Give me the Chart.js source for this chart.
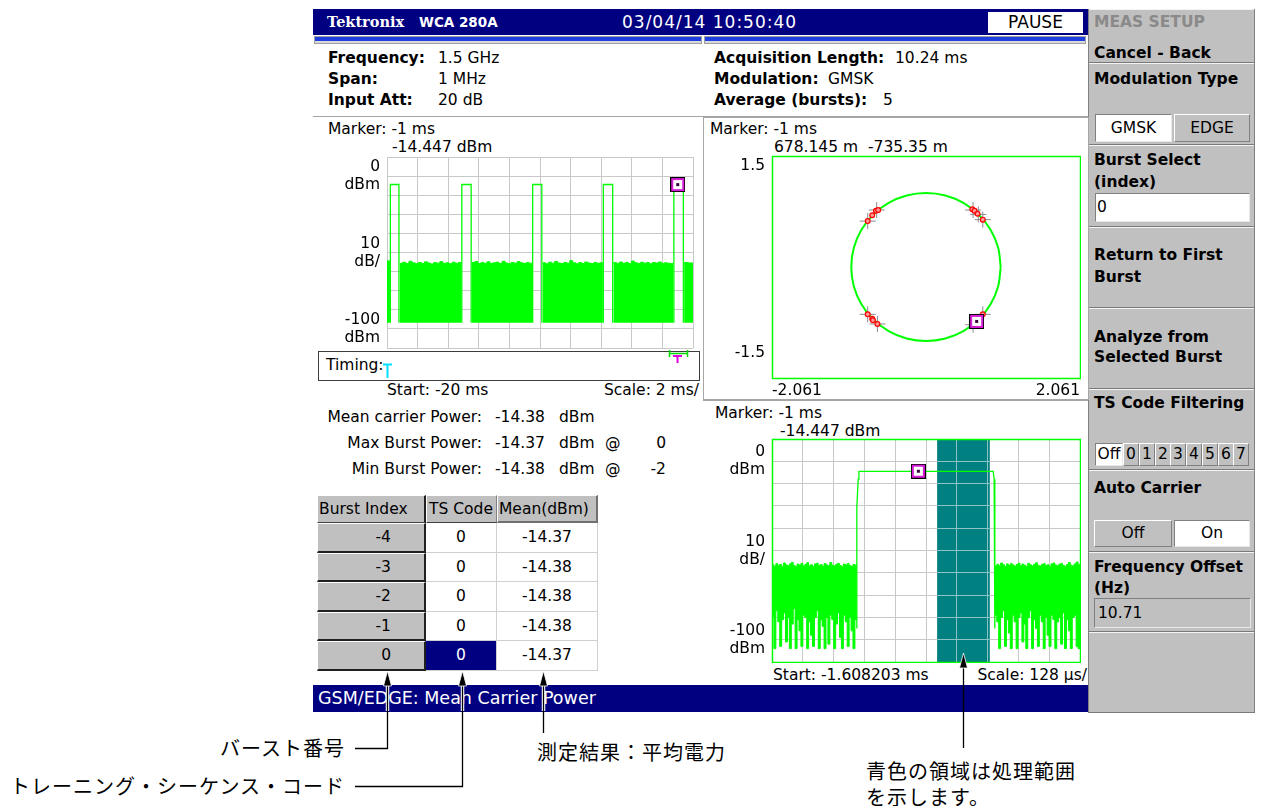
<!DOCTYPE html>
<html lang="ja">
<head>
<meta charset="utf-8">
<title>GSM/EDGE: Mean Carrier Power</title>
<script src="https://cdn.jsdelivr.net/npm/chart.js@4.4.1/dist/chart.umd.min.js"></script>
<style>
body { margin:0; width:1263px; height:806px; position:relative; overflow:hidden; background:#fff;
  font-family:'DejaVu Sans', sans-serif; font-size:15.5px; color:#000; }
.t { position:absolute; white-space:nowrap; line-height:18px; }
.r { text-align:right; }
.b { font-weight:bold; }
.w { color:#fff; }
.box { position:absolute; box-sizing:border-box; white-space:nowrap; }
canvas { position:absolute; }
.jp { position:absolute; white-space:nowrap; font-family:'Noto Sans CJK JP', sans-serif; font-size:20px; letter-spacing:1px; line-height:24px; }
.sec { position:absolute; left:1089px; width:165px; box-sizing:border-box; border-top:1px solid #f4f4f4; border-bottom:1px solid #7a7a7a; }
.raised { background:#c0c0c0; border-top:1px solid #fff; border-left:1px solid #fff; border-right:1px solid #808080; border-bottom:1px solid #808080; }
.sunk { border-top:1px solid #808080; border-left:1px solid #808080; border-right:1px solid #e8e8e8; border-bottom:1px solid #e8e8e8; }
.cell { position:absolute; box-sizing:border-box; white-space:nowrap; }
</style>
</head>
<body>

<!-- title bar -->
<div class="box" style="left:313px;top:9px;width:775px;height:26px;background:#000080"></div>
<div class="t w b" style="left:327px;top:13px;font-family:'DejaVu Serif',serif;font-size:14.5px">Tektronix</div>
<div class="t w b" style="left:419px;top:13px;font-size:13.5px">WCA 280A</div>
<div class="t w" style="left:622px;top:13px;font-size:17px;letter-spacing:1px">03/04/14 10:50:40</div>
<div class="box" style="left:988px;top:12px;width:95px;height:21px;background:#fff;text-align:center;line-height:21px;font-size:17px">PAUSE</div>
<div class="box" style="left:314px;top:36px;width:388px;height:8px;background:#1f3fe0;border:1px solid #a0a0a0;box-shadow:inset 0 -2px 0 #d8d8d8"></div>
<div class="box" style="left:704px;top:36px;width:382px;height:8px;background:#1f3fe0;border:1px solid #a0a0a0;box-shadow:inset 0 -2px 0 #d8d8d8"></div>

<!-- setup summary -->
<div class="t b" style="left:328px;top:49px">Frequency:</div>
<div class="t" style="left:438px;top:49px">1.5 GHz</div>
<div class="t b" style="left:328px;top:70px">Span:</div>
<div class="t" style="left:438px;top:70px">1 MHz</div>
<div class="t b" style="left:328px;top:91px">Input Att:</div>
<div class="t" style="left:438px;top:91px">20 dB</div>
<div class="t b" style="left:714px;top:49px">Acquisition Length:</div>
<div class="t" style="left:895px;top:49px">10.24 ms</div>
<div class="t b" style="left:714px;top:70px">Modulation:</div>
<div class="t" style="left:828px;top:70px">GMSK</div>
<div class="t b" style="left:714px;top:91px">Average (bursts):</div>
<div class="t" style="left:883px;top:91px">5</div>

<!-- top-left: power vs time -->
<div class="t" style="left:328px;top:120px">Marker: -1 ms</div>
<div class="t" style="left:392px;top:138px">-14.447 dBm</div>
<canvas id="tl" width="364" height="193" style="left:330px;top:156px"></canvas>
<div class="t" style="left:326px;top:356px">Timing:</div>
<div class="t" style="left:387px;top:381px">Start: -20 ms</div>
<div class="t r" style="right:564px;top:381px">Scale: 2 ms/</div>

<!-- measurement results -->
<div class="t r" style="right:781px;top:408px">Mean carrier Power:</div>
<div class="t" style="left:495px;top:408px">-14.38</div>
<div class="t" style="left:559px;top:408px">dBm</div>
<div class="t r" style="right:781px;top:434px">Max Burst Power:</div>
<div class="t" style="left:495px;top:434px">-14.37</div>
<div class="t" style="left:559px;top:434px">dBm</div>
<div class="t" style="left:605px;top:434px">@</div>
<div class="t r" style="right:597px;top:434px">0</div>
<div class="t r" style="right:781px;top:460px">Min Burst Power:</div>
<div class="t" style="left:495px;top:460px">-14.38</div>
<div class="t" style="left:559px;top:460px">dBm</div>
<div class="t" style="left:605px;top:460px">@</div>
<div class="t r" style="right:597px;top:460px">-2</div>

<!-- burst table header -->
<div class="cell raised" style="left:317px;top:495px;width:109px;height:28px;line-height:26px;padding-left:1px;border-right:2px solid #202020;border-bottom:1px solid #404040">Burst Index</div>
<div class="cell raised" style="left:426px;top:495px;width:71px;height:28px;line-height:26px;padding-left:2px;border-bottom:1px solid #404040">TS Code</div>
<div class="cell raised" style="left:497px;top:495px;width:101px;height:28px;line-height:26px;padding-left:1px;border-right:2px solid #707070;border-bottom:2px solid #707070">Mean(dBm)</div>
<div id="rows"></div>

<!-- top-right: IQ constellation -->
<div class="t" style="left:710px;top:120px">Marker: -1 ms</div>
<div class="t" style="left:774px;top:138px;white-space:pre">678.145 m  -735.35 m</div>
<canvas id="tr" width="361" height="244" style="left:720px;top:155px"></canvas>

<!-- bottom-right: single burst -->
<div class="t" style="left:715px;top:404px">Marker: -1 ms</div>
<div class="t" style="left:780px;top:422px">-14.447 dBm</div>
<canvas id="br" width="361" height="225" style="left:720px;top:438px"></canvas>
<div class="t" style="left:773px;top:666px">Start: -1.608203 ms</div>
<div class="t r" style="right:176px;top:666px">Scale: 128 µs/</div>

<!-- status bar -->
<div class="box" style="left:313px;top:685px;width:775px;height:27px;background:#000080"></div>
<div class="t w" style="left:318px;top:688px;font-size:17.5px;line-height:20px">GSM/EDGE: Mean Carrier Power</div>

<!-- side menu -->
<div class="box" style="left:1088px;top:9px;width:167px;height:704px;background:#c0c0c0;border-left:1px solid #808080;border-right:1px solid #808080"></div>
<div class="sec" style="top:9px;height:54px"></div>
<div class="sec" style="top:63px;height:82px"></div>
<div class="sec" style="top:145px;height:82px"></div>
<div class="sec" style="top:227px;height:81px"></div>
<div class="sec" style="top:308px;height:81px"></div>
<div class="sec" style="top:389px;height:81px"></div>
<div class="sec" style="top:470px;height:82px"></div>
<div class="sec" style="top:552px;height:80px"></div>
<div class="sec" style="top:632px;height:81px"></div>
<div class="t b" style="left:1094px;top:13px;color:#8a8a8a">MEAS SETUP</div>
<div class="t b" style="left:1094px;top:44px">Cancel - Back</div>
<div class="t b" style="left:1094px;top:70px">Modulation Type</div>
<div class="box sunk" style="left:1095px;top:114px;width:77px;height:28px;background:#fff;text-align:center;line-height:26px">GMSK</div>
<div class="box raised" style="left:1174px;top:114px;width:76px;height:28px;text-align:center;line-height:26px">EDGE</div>
<div class="t b" style="left:1094px;top:151px">Burst Select</div>
<div class="t b" style="left:1094px;top:173px">(index)</div>
<div class="box sunk" style="left:1095px;top:193px;width:155px;height:29px;background:#fff;line-height:27px;padding-left:1px">0</div>
<div class="t b" style="left:1094px;top:246px">Return to First</div>
<div class="t b" style="left:1094px;top:268px">Burst</div>
<div class="t b" style="left:1094px;top:328px">Analyze from</div>
<div class="t b" style="left:1094px;top:348px">Selected Burst</div>
<div class="t b" style="left:1094px;top:394px">TS Code Filtering</div>
<div id="tsButtons"></div>
<div class="t b" style="left:1094px;top:479px">Auto Carrier</div>
<div class="box raised" style="left:1094px;top:520px;width:78px;height:27px;text-align:center;line-height:25px">Off</div>
<div class="box sunk" style="left:1174px;top:520px;width:76px;height:27px;background:#fff;text-align:center;line-height:25px">On</div>
<div class="t b" style="left:1094px;top:558px">Frequency Offset</div>
<div class="t b" style="left:1094px;top:579px">(Hz)</div>
<div class="box sunk" style="left:1094px;top:598px;width:157px;height:30px;line-height:28px;padding-left:3px">10.71</div>

<!-- callout labels -->
<div class="jp r" style="right:918px;top:736px">バースト番号</div>
<div class="jp r" style="right:918px;top:774px">トレーニング・シーケンス・コード</div>
<div class="jp" style="left:537px;top:740px">測定結果：平均電力</div>
<div class="jp" style="left:866px;top:759px">青色の領域は処理範囲</div>
<div class="jp" style="left:866px;top:785px">を示します。</div>

<svg width="1263" height="806" style="position:absolute;left:0;top:0">
  <line x1="313" y1="116.5" x2="1088" y2="116.5" stroke="#a6a6a6"/>
  <rect x="703.5" y="117.5" width="385" height="282" fill="none" stroke="#a6a6a6"/>
  <line x1="703" y1="400.5" x2="1088" y2="400.5" stroke="#a6a6a6"/>
  <rect x="318.5" y="351.5" width="381" height="29" fill="none" stroke="#3c3c3c"/>
  <path d="M383 364.5 H392 M387.5 364.5 V378" stroke="#00e0ff" stroke-width="2" fill="none"/>
  <path d="M669.5 350 V357 M669.5 353.5 H687.5 M687.5 350 V357" stroke="#00d800" stroke-width="1.5" fill="none"/>
  <path d="M673 356 H682 M677.5 356 V363" stroke="#e000e0" stroke-width="2" fill="none"/>
  <g fill="none" stroke="#fff" stroke-width="3.5">
    <path d="M387.5 684 V711"/><path d="M462.5 684 V711"/><path d="M543.5 684 V711"/>
  </g>
  <g fill="none" stroke="#000" stroke-width="1.3">
    <path d="M355 748.5 H387.5 V684"/>
    <path d="M355 786.5 H462.5 V684"/>
    <path d="M543.5 733 V684"/>
    <path d="M963.5 748 V666"/>
  </g>
  <g fill="#000" stroke="#fff" stroke-width="0.8">
    <polygon points="387.5,671 383.5,686 391.5,686"/>
    <polygon points="462.5,671 458.5,686 466.5,686"/>
    <polygon points="543.5,671 539.5,686 547.5,686"/>
    <polygon points="963.5,653 959.5,668 967.5,668"/>
  </g>
</svg>

<script>
// ---- shared axis definitions ----
const levelGrid = [-100, -90, -80, -70, -60, -50, -40, -30, -20, -10, 0];
const levelLabelAt = [-10, -50, -90];
const levelLabelText = [['0', 'dBm'], ['10', 'dB/'], ['-100', 'dBm']];

const markerMs = -1;
const markerDbm = -14.447;
const markerI = 0.678145;
const markerQ = -0.73535;

// ---- top-left: five bursts, Start -20 ms, 2 ms/div ----
const tlStartMs = -20;
const tlScaleMs = 2;
const tlBurstStart = [-19.78, -15.11, -10.48, -5.86, -1.25];
const tlBurstEnd = [-19.22, -14.50, -9.88, -5.25, -0.63];
const tlBurstLevel = [-14.40, -14.41, -14.40, -14.39, -14.45];
const tlNoiseFloor = -86.8;
const tlNoiseFrom = [-20.00, -19.17, -14.45, -9.83, -5.20, -0.58];
const tlNoiseTo = [-19.81, -15.14, -10.51, -5.89, -1.28, 0.00];
const tlNoise0 = [-54.4];
const tlNoise1 = [-55.6, -55.1, -55.8, -54.6, -55.4, -55.9, -55.2, -55.7, -54.9, -55.5, -56.0, -55.3, -55.6, -54.8, -55.7, -55.4, -55.9, -55.1, -55.6, -55.3];
const tlNoise2 = [-55.2, -54.7, -55.8, -55.3, -55.6, -54.9, -55.7, -55.4, -55.1, -55.8, -54.6, -55.5, -55.9, -55.2, -55.6, -54.8, -55.4, -55.7, -55.3, -55.6];
const tlNoise3 = [-55.4, -55.9, -55.1, -55.6, -54.7, -55.5, -55.8, -55.2, -55.6, -54.3, -55.4, -55.9, -55.3, -55.7, -55.0, -55.5, -55.8, -55.2, -55.6, -55.4];
const tlNoise4 = [-55.3, -55.7, -55.0, -55.6, -55.2, -55.8, -54.5, -55.4, -55.7, -55.1, -55.6, -55.3, -55.9, -55.2, -55.5, -55.0, -55.7, -55.4, -55.6, -55.8];
const tlNoise5 = [-55.2, -55.5];
const tlNoiseTop = [tlNoise0, tlNoise1, tlNoise2, tlNoise3, tlNoise4, tlNoise5];

// ---- top-right: IQ constellation ----
const iqXTicks = [-2.061, 2.061];
const iqXLabels = ['-2.061', '2.061'];
const iqYTicks = [-1.162, 1.365];
const iqYLabels = ['-1.5', '1.5'];
const circI = [1, 0.966, 0.866, 0.707, 0.5, 0.259, 0, -0.259, -0.5, -0.707, -0.866, -0.966, -1, -0.966, -0.866, -0.707, -0.5, -0.259, 0, 0.259, 0.5, 0.707, 0.866, 0.966, 1];
const circQ = [0, 0.259, 0.5, 0.707, 0.866, 0.966, 1, 0.966, 0.866, 0.707, 0.5, 0.259, 0, -0.259, -0.5, -0.707, -0.866, -0.966, -1, -0.966, -0.866, -0.707, -0.5, -0.259, 0];
const symI = [-0.78, -0.72, -0.67, -0.64, 0.62, 0.65, 0.69, 0.76, -0.78, -0.72, -0.71, -0.65, 0.76, 0.72, 0.68, 0.64];
const symQ = [0.62, 0.70, 0.76, 0.77, 0.78, 0.76, 0.72, 0.64, -0.64, -0.70, -0.72, -0.77, -0.64, -0.69, -0.735, -0.77];
const crossI = [-0.78, -0.66, 0.63, 0.70, 0.76, -0.78, -0.65, 0.76, 0.63];
const crossQ = [0.62, 0.77, 0.77, 0.71, 0.64, -0.64, -0.77, -0.64, -0.78];

// ---- bottom-right: burst 0, Start -1.608203 ms, 128 us/div ----
const brStartMs = -1.608203;
const brScaleMs = 0.128;
const brGateFrom = -0.922;
const brGateTo = -0.703;
const brEdgeT = [-1.2556, -1.2556, -1.2500, -1.2470, -0.6890, -0.6850, -0.6822, -0.6822];
const brEdgeP = [-85, -30.5, -18, -14.5, -14.5, -18, -30.5, -85];
const brNoiseLTo = -1.2556;
const brNoiseRFrom = -0.6822;
const brMaxL = [-56.4, -57.1, -55.9, -56.8, -56.2, -57.3, -55.6, -56.5, -56.9, -56.0, -55.3, -56.7, -57.2, -56.1, -56.6, -55.8, -57.0, -56.3, -55.5, -56.9, -56.4, -57.2, -56.0, -55.7, -56.8, -56.3, -57.1, -55.9, -56.5, -56.9, -55.4, -56.6, -57.0, -56.2, -55.8, -56.7, -57.3, -56.1, -56.5, -55.9, -56.8, -57.1, -56.3, -56.6];
const brMinL = [-80, -94, -77, -82, -93, -81, -78, -91, -80, -94, -83, -76, -94, -81, -86, -93, -79, -80, -94, -82, -88, -93, -80, -77, -94, -81, -84, -94, -80, -92, -79, -81, -94, -83, -78, -89, -94, -79, -82, -93, -80, -86, -94, -81];
const brMaxR = [-57.0, -56.2, -56.8, -55.6, -56.4, -57.2, -56.0, -56.7, -55.9, -56.5, -57.1, -56.3, -55.7, -56.9, -56.1, -56.6, -57.3, -55.8, -56.4, -56.9, -56.2, -55.5, -56.7, -57.0, -56.3, -55.9, -56.8, -56.4, -57.2, -56.0, -55.6, -56.5, -56.9, -56.2, -55.8, -56.7, -57.1, -56.3, -55.4, -56.6, -56.9, -56.0, -55.2, -56.4];
const brMinR = [-79, -82, -94, -80, -77, -93, -81, -87, -94, -79, -82, -94, -80, -78, -91, -83, -94, -80, -77, -94, -81, -85, -93, -79, -82, -94, -80, -88, -93, -79, -81, -94, -82, -80, -92, -78, -94, -81, -86, -94, -80, -79, -93, -94];

// ---- burst table ----
const burstIndex = ['-4', '-3', '-2', '-1', '0'];
const tsCode = ['0', '0', '0', '0', '0'];
const meanDbm = ['-14.37', '-14.38', '-14.38', '-14.38', '-14.37'];
const tsFilterButtons = ['Off', '0', '1', '2', '3', '4', '5', '6', '7'];

const GREEN = '#00ff00';
const GRID = '#c8c8c8';

// ---- table rows ----
const rowsDiv = document.getElementById('rows');
burstIndex.forEach((b, i) => {
    const top = Math.round(523 + i * 29.6);
    const h = Math.round(523 + (i + 1) * 29.6) - top;
    const sel = i === burstIndex.length - 1;
    rowsDiv.innerHTML += `
        <div class="cell" style="left:317px;top:${top}px;width:109px;height:${h}px;line-height:${h - 3}px;background:#c0c0c0;border-top:1px solid #fff;border-left:1px solid #fff;border-right:2px solid #202020;border-bottom:2px solid #202020;text-align:right;padding-right:33px">${b}</div>
        <div class="cell" style="left:426px;top:${top}px;width:71px;height:${h}px;line-height:${h - 1}px;text-align:center;border-right:1px solid #d0d0d0;border-bottom:1px solid #d0d0d0;${sel ? 'background:#000080;color:#fff;' : ''}">${tsCode[i]}</div>
        <div class="cell" style="left:497px;top:${top}px;width:101px;height:${h}px;line-height:${h - 1}px;text-align:center;border-right:1px solid #d0d0d0;border-bottom:1px solid #d0d0d0">${meanDbm[i]}</div>`;
});

// ---- TS code filter buttons ----
const tsDiv = document.getElementById('tsButtons');
tsFilterButtons.forEach((label, i) => {
    const left = i === 0 ? 1095 : Math.round(1123 + (i - 1) * 15.75);
    const w = i === 0 ? 28 : 16;
    const cls = i === 0 ? 'box sunk' : 'box raised';
    tsDiv.innerHTML += `<div class="${cls}" style="left:${left}px;top:443px;width:${w}px;height:23px;line-height:21px;text-align:center;${i === 0 ? 'background:#fff;' : ''}">${label}</div>`;
});

// ---- helpers ----
function stepSeries(from, to, values) {
    const dt = (to - from) / values.length;
    const pts = values.map((v, i) => ({ x: from + i * dt, y: v }));
    pts.push({ x: to, y: values[values.length - 1] });
    return pts;
}

function makeMarkerImage() {
    const c = document.createElement('canvas');
    c.width = 15; c.height = 15;
    const g = c.getContext('2d');
    g.fillStyle = '#000'; g.fillRect(0, 0, 15, 15);
    g.fillStyle = '#d81ed8'; g.fillRect(1, 1, 13, 13);
    g.fillStyle = '#fff'; g.fillRect(3, 3, 9, 9);
    g.fillStyle = '#3a003a'; g.fillRect(6, 6, 3, 3);
    return c;
}
const markerImg = makeMarkerImage();

function levelAxis(labelWidth) {
    return {
        type: 'linear', min: -100, max: 0,
        afterBuildTicks: s => { s.ticks = levelGrid.map(v => ({ value: v })); },
        afterFit: s => { s.width = labelWidth; s.paddingTop = 0; s.paddingBottom = 0; },
        grid: { color: GRID, drawTicks: false },
        border: { display: false },
        ticks: {
            autoSkip: false, padding: 7, color: '#000',
            font: { family: "'DejaVu Sans', sans-serif", size: 15.5, lineHeight: '18px' },
            callback: v => { const i = levelLabelAt.indexOf(Math.round(v)); return i < 0 ? '' : levelLabelText[i]; }
        }
    };
}

function timeAxis(gridValues) {
    return {
        type: 'linear', min: gridValues[0], max: gridValues[gridValues.length - 1],
        afterBuildTicks: s => { s.ticks = gridValues.map(v => ({ value: v })); },
        afterFit: s => { s.height = 0; s.paddingLeft = 0; s.paddingRight = 0; },
        grid: { color: GRID, drawTicks: false },
        border: { display: false },
        ticks: { display: false }
    };
}

// plot frame drawn over the data
const framePlugin = {
    id: 'frame',
    afterDatasetsDraw(chart, args, opts) {
        const a = chart.chartArea, ctx = chart.ctx;
        ctx.save();
        ctx.strokeStyle = opts.color;
        ctx.lineWidth = opts.width;
        ctx.strokeRect(a.left + 0.5, a.top + 0.5, a.right - a.left, a.bottom - a.top);
        ctx.restore();
    }
};

// processing range: teal band with the grid showing through
const gatePlugin = {
    id: 'gate',
    beforeDatasetsDraw(chart, args, opts) {
        const { ctx, chartArea: a } = chart;
        const x = chart.scales.x, y = chart.scales.y;
        const x0 = x.getPixelForValue(opts.from), x1 = x.getPixelForValue(opts.to);
        ctx.save();
        ctx.fillStyle = opts.color;
        ctx.fillRect(x0, a.top, x1 - x0, a.bottom - a.top);
        ctx.strokeStyle = opts.gridColor;
        ctx.lineWidth = 1;
        ctx.beginPath();
        x.ticks.forEach(t => {
            const p = Math.round(x.getPixelForValue(t.value) - 0.5) + 0.5;
            if (p > x0 && p < x1) { ctx.moveTo(p, a.top); ctx.lineTo(p, a.bottom); }
        });
        y.ticks.forEach(t => {
            const p = Math.round(y.getPixelForValue(t.value) - 0.5) + 0.5;
            ctx.moveTo(x0, p); ctx.lineTo(x1, p);
        });
        ctx.stroke();
        ctx.restore();
    }
};

const baseOptions = {
    responsive: false,
    animation: false,
    devicePixelRatio: 1,
    layout: { autoPadding: false, padding: { top: 1, right: 1, bottom: 1, left: 0 } },
    plugins: { legend: { display: false }, tooltip: { enabled: false } }
};

// ---- top-left chart ----
const tlGrid = Array.from({ length: 11 }, (_, i) => tlStartMs + i * tlScaleMs);
const tlBurstPts = [];
tlBurstStart.forEach((s, k) => {
    const e = tlBurstEnd[k], lv = tlBurstLevel[k];
    tlBurstPts.push({ x: s, y: tlNoiseFloor }, { x: s, y: lv }, { x: e, y: lv }, { x: e, y: tlNoiseFloor }, { x: e, y: null });
});
const tlNoiseSets = tlNoiseTop.map((vals, k) => ({
    data: stepSeries(tlNoiseFrom[k], tlNoiseTo[k], vals),
    stepped: true, borderColor: GREEN, backgroundColor: GREEN, borderWidth: 1,
    fill: { value: tlNoiseFloor }, pointRadius: 0, order: 2
}));

new Chart(document.getElementById('tl'), {
    type: 'line',
    data: {
        datasets: [
            { data: [{ x: markerMs, y: markerDbm }], pointStyle: markerImg, pointRadius: 7, showLine: false, order: 0 },
            { data: tlBurstPts, borderColor: GREEN, borderWidth: 1.3, pointRadius: 0, fill: false, order: 1 },
            ...tlNoiseSets
        ]
    },
    options: { ...baseOptions, scales: { x: timeAxis(tlGrid), y: levelAxis(57) } }
});

// ---- top-right chart ----
const tickFont = { family: "'DejaVu Sans', sans-serif", size: 15.5, lineHeight: '18px' };
new Chart(document.getElementById('tr'), {
    type: 'scatter',
    data: {
        datasets: [
            { data: [{ x: markerI, y: markerQ }], pointStyle: markerImg, pointRadius: 7, order: 0 },
            { data: symI.map((v, i) => ({ x: v, y: symQ[i] })), pointRadius: 2.4, borderWidth: 1.2,
              borderColor: '#ff0000', backgroundColor: '#ff9a9a', order: 1 },
            { data: crossI.map((v, i) => ({ x: v, y: crossQ[i] })), pointStyle: 'cross', pointRadius: 8,
              borderWidth: 1, borderColor: '#8c8c8c', order: 2 },
            { data: circI.map((v, i) => ({ x: v, y: circQ[i] })), showLine: true, tension: 0.33,
              borderColor: GREEN, borderWidth: 2, pointRadius: 0, order: 3 }
        ]
    },
    options: {
        ...baseOptions,
        plugins: { ...baseOptions.plugins, frame: { color: GREEN, width: 1.5 } },
        scales: {
            x: {
                type: 'linear', min: -2.061, max: 2.061,
                afterBuildTicks: s => { s.ticks = iqXTicks.map(v => ({ value: v })); },
                afterFit: s => { s.height = 20; s.paddingLeft = 0; s.paddingRight = 0; },
                grid: { display: false, drawTicks: false }, border: { display: false },
                ticks: { autoSkip: false, maxRotation: 0, align: 'inner', padding: 4, color: '#000', font: tickFont,
                         callback: (v, i) => iqXLabels[i] }
            },
            y: {
                type: 'linear', min: -1.5, max: 1.5,
                afterBuildTicks: s => { s.ticks = iqYTicks.map(v => ({ value: v })); },
                afterFit: s => { s.width = 52; s.paddingTop = 0; s.paddingBottom = 0; },
                grid: { display: false, drawTicks: false }, border: { display: false },
                ticks: { autoSkip: false, padding: 7, color: '#000', font: tickFont,
                         callback: (v, i) => iqYLabels[i] }
            }
        }
    },
    plugins: [framePlugin]
});

// ---- bottom-right chart ----
const brGrid = Array.from({ length: 11 }, (_, i) => brStartMs + i * brScaleMs);
const brEnd = brGrid[brGrid.length - 1];
const noiseStyle = { stepped: true, borderColor: GREEN, backgroundColor: GREEN, borderWidth: 1, pointRadius: 0, order: 2 };

new Chart(document.getElementById('br'), {
    type: 'line',
    data: {
        datasets: [
            { data: [{ x: markerMs, y: markerDbm }], pointStyle: markerImg, pointRadius: 7, showLine: false, order: 0 },
            { data: brEdgeT.map((t, i) => ({ x: t, y: brEdgeP[i] })), borderColor: GREEN, borderWidth: 1.3,
              pointRadius: 0, fill: false, order: 1 },
            { ...noiseStyle, data: stepSeries(brStartMs, brNoiseLTo, brMaxL), fill: '+1' },
            { ...noiseStyle, data: stepSeries(brStartMs, brNoiseLTo, brMinL), fill: false },
            { ...noiseStyle, data: stepSeries(brNoiseRFrom, brEnd, brMaxR), fill: '+1' },
            { ...noiseStyle, data: stepSeries(brNoiseRFrom, brEnd, brMinR), fill: false }
        ]
    },
    options: {
        ...baseOptions,
        plugins: {
            ...baseOptions.plugins,
            frame: { color: GREEN, width: 1.5 },
            gate: { from: brGateFrom, to: brGateTo, color: '#008080', gridColor: '#8cc4c4' }
        },
        scales: { x: timeAxis(brGrid), y: levelAxis(52) }
    },
    plugins: [gatePlugin, framePlugin]
});
</script>
</body>
</html>
